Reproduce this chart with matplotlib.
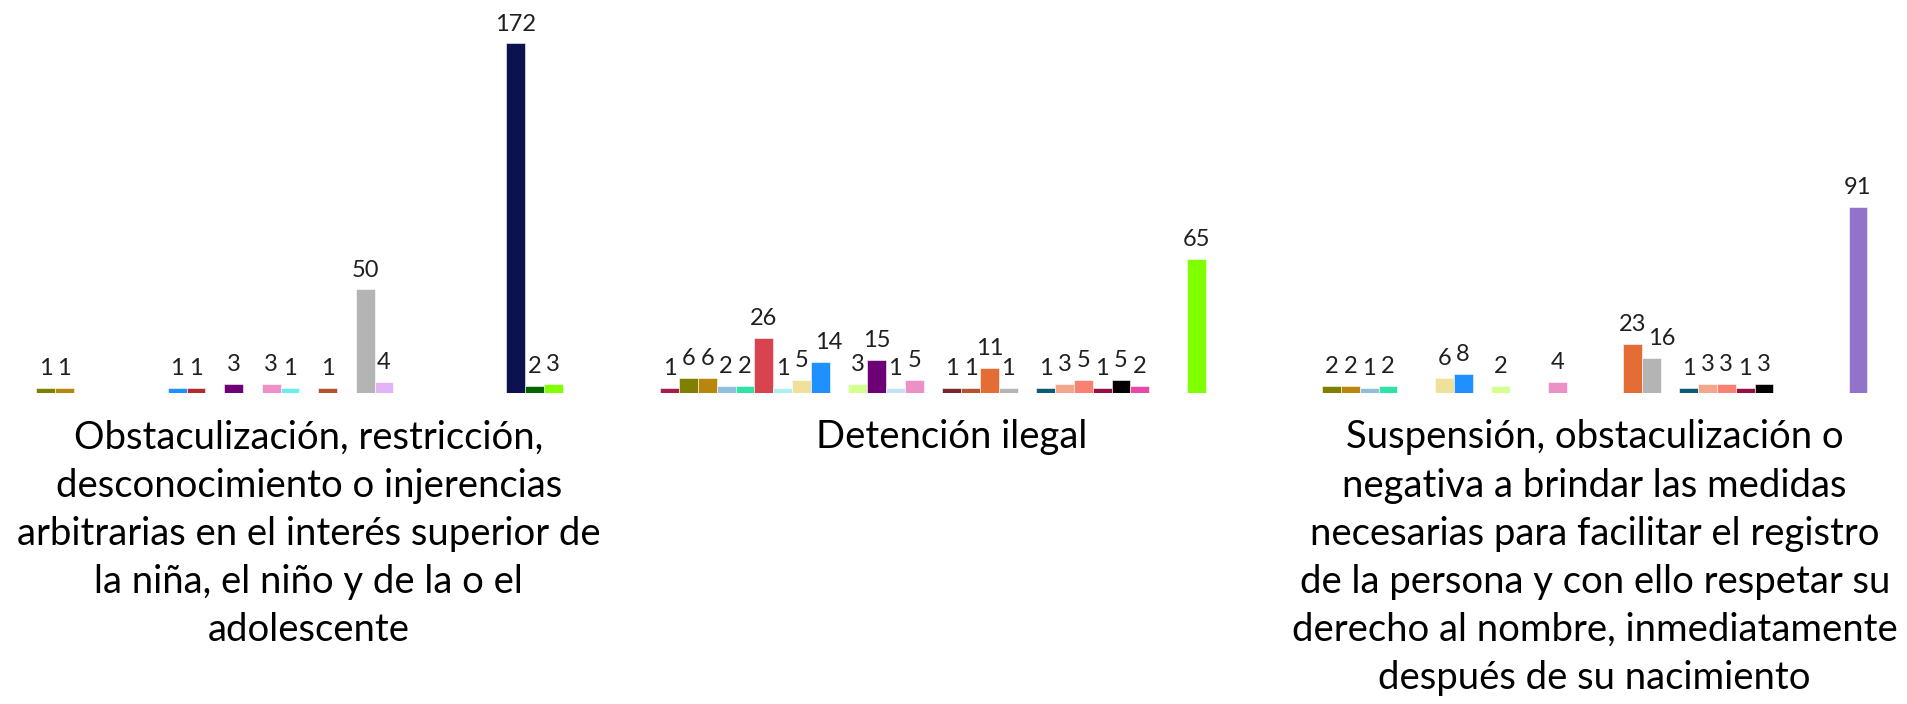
import numpy as np
import matplotlib
matplotlib.use("Agg")
import matplotlib.pyplot as plt

plt.rcParams['font.family'] = ['Lato', 'DejaVu Sans']

categories = [
    "Obstaculización, restricción,\ndesconocimiento o injerencias\narbitrarias en el interés superior de\nla niña, el niño y de la o el\nadolescente",
    "Detención ilegal",
    "Suspensión, obstaculización o\nnegativa a brindar las medidas\nnecesarias para facilitar el registro\nde la persona y con ello respetar su\nderecho al nombre, inmediatamente\ndespués de su nacimiento",
]

# one row per series, one value per category
values = [
    [0, 1, 0],
    [1, 6, 2],
    [1, 6, 2],
    [0, 2, 1],
    [0, 2, 2],
    [0, 26, 0],
    [0, 1, 0],
    [0, 5, 6],
    [1, 14, 8],
    [1, 0, 0],
    [0, 3, 2],
    [3, 15, 0],
    [0, 1, 0],
    [3, 5, 4],
    [1, 0, 0],
    [0, 1, 0],
    [1, 1, 0],
    [0, 11, 23],
    [50, 1, 16],
    [4, 0, 0],
    [0, 1, 1],
    [0, 3, 3],
    [0, 5, 3],
    [0, 1, 1],
    [0, 5, 3],
    [0, 2, 0],
    [172, 0, 0],
    [2, 0, 0],
    [3, 65, 0],
    [0, 0, 91],
]

colors = [
    '#A31D4D', '#808000', '#B8860B', '#91BEDC', '#2FE3A4', '#D9434F',
    '#AFEEEE', '#F0E09A', '#1E90FF', '#B22B2E', '#D6FF90', '#6B0077',
    '#C7E0F5', '#EE90C8', '#68EEF2', '#7A2630', '#B5532C', '#E46C35',
    '#B4B4B4', '#E2B3F7', '#0D5A78', '#F2A78A', '#FA8072', '#950F45',
    '#000000', '#E64AA6', '#0C1150', '#006400', '#7FFF00', '#9372CC',
]

# a few labels were pushed sideways in the source to avoid touching
label_nudge = {(8, 1): 6.5, (18, 2): 8}

# horizontal axis crosses a little below zero, like the source chart
y0 = -1.5
px_per_unit = 2.016

fig = plt.figure(figsize=(19.08, 7.04), dpi=100)
ax = fig.add_axes([0, (704 - 393) / 704, 1, 393 / 704])

n = len(values)
w = 18.8 / 643
x = np.arange(len(categories))

for i, (vals, c) in enumerate(zip(values, colors)):
    vals = np.array(vals)
    pos = x + (i - n / 2) * w
    heights = np.where(vals > 0, vals - y0, 0)
    ax.bar(pos, heights, bottom=y0, width=w, color=c,
           edgecolor='white', linewidth=0.4)
    for j, (p, v) in enumerate(zip(pos, vals)):
        if v == 0:
            continue
        dx = label_nudge.get((i, j), 0)
        ax.annotate(str(v), (p, v), xytext=(dx, 9), textcoords='offset points',
                    ha='center', va='baseline', fontsize=17, color='#1F1F1F')

ax.set_xlim(-308.7 / 643, -308.7 / 643 + 1908 / 643)
ax.set_ylim(y0, y0 + 393 / px_per_unit)
ax.set_xticks(x)
ax.set_xticklabels(categories, fontsize=27.5, linespacing=1.42)
ax.tick_params(axis='x', length=0, pad=19)
ax.tick_params(axis='y', left=False, labelleft=False)
for s in ax.spines.values():
    s.set_visible(False)

fig.savefig("out.png", dpi=100)
